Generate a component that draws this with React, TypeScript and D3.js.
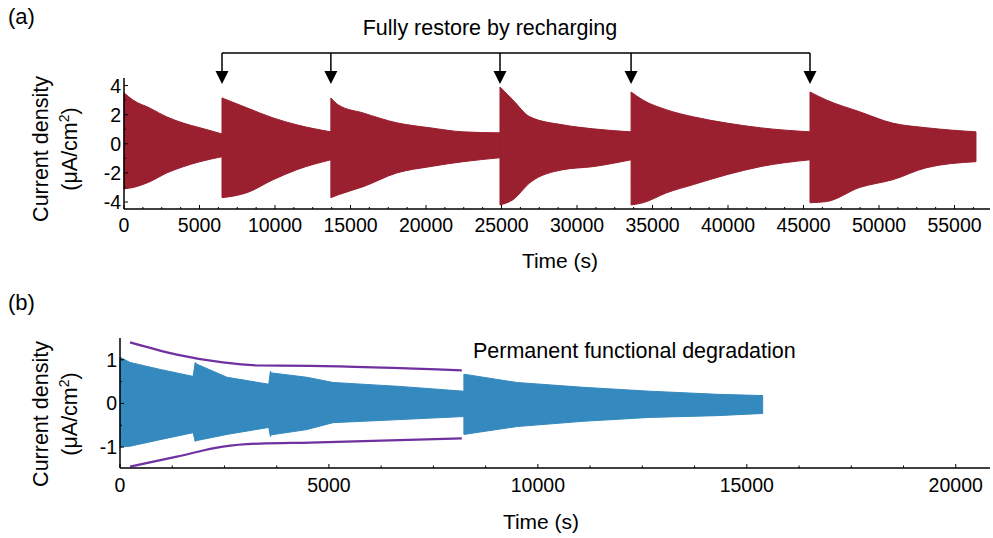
import React from "react";
import * as d3 from "d3";

// ---------- Panel (a) data: envelope of the current oscillation, per recharge segment ----------
const segATime: number[][] = [
  [0, 600, 1720, 2830, 3930, 5030, 6490],
  [6490, 8140, 9870, 11450, 13700],
  [13700, 14200, 15830, 18070, 20260, 22450, 24900],
  [24900, 25760, 26880, 29070, 31050, 33580],
  [33580, 34370, 35950, 37720, 39930, 42140, 45430],
  [45430, 46530, 48720, 50900, 53150, 56420],
];
const segAUpper: number[][] = [
  [3.5, 3.0, 2.45, 1.85, 1.42, 1.1, 0.68],
  [3.15, 2.47, 1.78, 1.3, 0.82],
  [3.15, 2.67, 2.12, 1.44, 1.1, 0.82, 0.75],
  [3.9, 3.0, 1.85, 1.3, 1.03, 0.82],
  [3.56, 3.0, 2.33, 1.85, 1.42, 1.1, 0.82],
  [3.56, 3.0, 2.2, 1.42, 1.1, 0.82],
];
const segALower: number[][] = [
  [-3.1, -3.0, -2.6, -2.0, -1.57, -1.23, -0.89],
  [-3.7, -3.36, -2.47, -1.78, -1.1],
  [-3.7, -3.5, -2.95, -2.0, -1.57, -1.23, -0.96],
  [-4.2, -3.84, -2.67, -1.78, -1.57, -1.1],
  [-4.2, -4.05, -3.36, -2.8, -2.12, -1.57, -1.1],
  [-4.05, -3.97, -3.0, -2.47, -1.64, -1.23],
];
const rechargeTimes = [6490, 13700, 24900, 33580, 45430];
const ticksAX = [0, 5000, 10000, 15000, 20000, 25000, 30000, 35000, 40000, 45000, 50000, 55000];
const ticksAY = [4, 2, 0, -2, -4];

// ---------- Panel (b) data ----------
const segBTime: number[][] = [
  [0, 240, 960, 1750, 1800, 1840, 2560, 3560, 3600, 3620, 4470, 5100, 6700, 8230],
  [8230, 9500, 11080, 12680, 14280, 15380],
];
const segBUpper: number[][] = [
  [1.06, 0.94, 0.78, 0.62, 0.94, 0.9, 0.6, 0.44, 0.74, 0.7, 0.6, 0.48, 0.39, 0.28],
  [0.67, 0.48, 0.37, 0.28, 0.21, 0.18],
];
const segBLower: number[][] = [
  [-1.0, -0.98, -0.83, -0.67, -0.87, -0.85, -0.71, -0.55, -0.76, -0.72, -0.6, -0.44, -0.37, -0.3],
  [-0.71, -0.53, -0.41, -0.32, -0.28, -0.23],
];
const guideTime = [240, 1360, 2460, 3350, 4550, 8180];
const guideUpper = [1.4, 1.12, 0.94, 0.87, 0.86, 0.76];
const guideLower = [-1.45, -1.22, -0.99, -0.92, -0.9, -0.8];
const ticksBX = [0, 5000, 10000, 15000, 20000];
const ticksBY = [1, 0, -1];

const FONT = "Liberation Sans, Arial, Helvetica, sans-serif";
const RED = "#9a1f2f";
const BLUE = "#3489be";
const PURPLE = "#7030a0";

export default function App() {
  const xA = d3.scaleLinear().domain([0, 57350]).range([124, 990]);
  const yA = d3.scaleLinear().domain([-4.48, 4.52]).range([209, 78]);
  const xB = d3.scaleLinear().domain([0, 20820]).range([120, 990]);
  const yB = d3.scaleLinear().domain([-1.48, 1.5]).range([468, 338]);

  const areaA = (i: number) =>
    d3
      .area<number>()
      .x((_, j) => xA(segATime[i][j]))
      .y0((_, j) => yA(segALower[i][j]))
      .y1((_, j) => yA(segAUpper[i][j]))
      .curve(d3.curveMonotoneX)(segATime[i]) || "";

  const areaB = (i: number) =>
    d3
      .area<number>()
      .x((_, j) => xB(segBTime[i][j]))
      .y0((_, j) => yB(segBLower[i][j]))
      .y1((_, j) => yB(segBUpper[i][j]))
      .curve(d3.curveLinear)(segBTime[i]) || "";

  const guideLine = (vals: number[]) =>
    d3
      .line<number>()
      .x((_, j) => xB(guideTime[j]))
      .y((v) => yB(v))
      .curve(d3.curveMonotoneX)(vals) || "";

  const minorAX = d3.range(0, 57350, 1250);
  const minorBX = d3.range(0, 20820, 1250);
  const minorAY = d3.range(-4, 4.5, 1);
  const minorBY = [-1, -0.5, 0, 0.5, 1];

  const [ax0, ax1] = xA.range();
  const [bx0, bx1] = xB.range();

  const bracketY = 53;
  const headTop = 71;
  const headTip = 84;

  return (
    <svg width={993} height={538} style={{ position: "absolute", left: 0, top: 0 }} fontFamily={FONT}>
      <rect width={993} height={538} fill="#fff" />
      {/* ===== Panel (a) ===== */}
      <text x={8} y={24} fontSize={22}>(a)</text>
      {segATime.map((_, i) => (
        <path key={"a" + i} d={areaA(i)} fill={RED} stroke={RED} strokeWidth={1} strokeLinejoin="round" />
      ))}
      <line x1={ax0} x2={ax1} y1={209} y2={209} stroke="#000" strokeWidth={1.5} />
      <line x1={ax0} x2={ax0} y1={78} y2={209} stroke="#000" strokeWidth={1.5} />
      {minorAX.map((t) => (
        <line key={"amx" + t} x1={xA(t)} x2={xA(t)} y1={209} y2={t % 5000 === 0 ? 205 : 207} stroke="#000" strokeWidth={1} />
      ))}
      {minorAY.map((v) => (
        <line key={"amy" + v} x1={ax0} x2={ax0 + (v % 2 === 0 ? 4 : 2)} y1={yA(v)} y2={yA(v)} stroke="#000" strokeWidth={1} />
      ))}
      {ticksAX.map((t) => (
        <text key={"atx" + t} x={xA(t)} y={232} fontSize={19.5} textAnchor="middle">{t}</text>
      ))}
      {ticksAY.map((v) => (
        <text key={"aty" + v} x={ax0 - 3} y={yA(v) + 7} fontSize={19.5} textAnchor="end">{v}</text>
      ))}
      <text x={560} y={268} fontSize={21} textAnchor="middle">Time (s)</text>
      <text transform={`translate(48,149) rotate(-90)`} fontSize={21.5} textAnchor="middle">Current density</text>
      <text transform={`translate(77,149) rotate(-90)`} fontSize={21.5} textAnchor="middle">
        (μA/cm<tspan baselineShift="super" fontSize={14}>2</tspan>)
      </text>
      <text x={490} y={35} fontSize={21.5} textAnchor="middle">Fully restore by recharging</text>
      <line
        x1={xA(rechargeTimes[0])}
        x2={xA(rechargeTimes[rechargeTimes.length - 1])}
        y1={bracketY}
        y2={bracketY}
        stroke="#000"
        strokeWidth={1.5}
      />
      {rechargeTimes.map((t) => {
        const x = xA(t);
        return (
          <g key={"arr" + t}>
            <line x1={x} x2={x} y1={bracketY} y2={headTop + 1} stroke="#000" strokeWidth={1.5} />
            <path d={`M${x - 6.5},${headTop}L${x + 6.5},${headTop}L${x},${headTip}Z`} fill="#000" />
          </g>
        );
      })}

      {/* ===== Panel (b) ===== */}
      <text x={8} y={310} fontSize={22}>(b)</text>
      {segBTime.map((_, i) => (
        <path key={"b" + i} d={areaB(i)} fill={BLUE} stroke={BLUE} strokeWidth={1} strokeLinejoin="round" />
      ))}
      <path d={guideLine(guideUpper)} fill="none" stroke={PURPLE} strokeWidth={2.2} />
      <path d={guideLine(guideLower)} fill="none" stroke={PURPLE} strokeWidth={2.2} />
      <line x1={bx0} x2={bx1} y1={468} y2={468} stroke="#000" strokeWidth={1.5} />
      <line x1={bx0} x2={bx0} y1={338} y2={468} stroke="#000" strokeWidth={1.5} />
      {minorBX.map((t) => (
        <line key={"bmx" + t} x1={xB(t)} x2={xB(t)} y1={468} y2={t % 5000 === 0 ? 464 : 465.5} stroke="#000" strokeWidth={1} />
      ))}
      {minorBY.map((v) => (
        <line key={"bmy" + v} x1={bx0} x2={bx0 + (Number.isInteger(v) ? 4 : 2)} y1={yB(v)} y2={yB(v)} stroke="#000" strokeWidth={1} />
      ))}
      {ticksBX.map((t) => (
        <text key={"btx" + t} x={xB(t)} y={492} fontSize={19.5} textAnchor="middle">{t}</text>
      ))}
      {ticksBY.map((v) => (
        <text key={"bty" + v} x={bx0 - 3} y={yB(v) + 7} fontSize={19.5} textAnchor="end">{v}</text>
      ))}
      <text x={541} y={529} fontSize={21} textAnchor="middle">Time (s)</text>
      <text transform={`translate(48,414) rotate(-90)`} fontSize={21.5} textAnchor="middle">Current density</text>
      <text transform={`translate(77,414) rotate(-90)`} fontSize={21.5} textAnchor="middle">
        (μA/cm<tspan baselineShift="super" fontSize={14}>2</tspan>)
      </text>
      <text x={473} y={358} fontSize={21.5}>Permanent functional degradation</text>
    </svg>
  );
}
